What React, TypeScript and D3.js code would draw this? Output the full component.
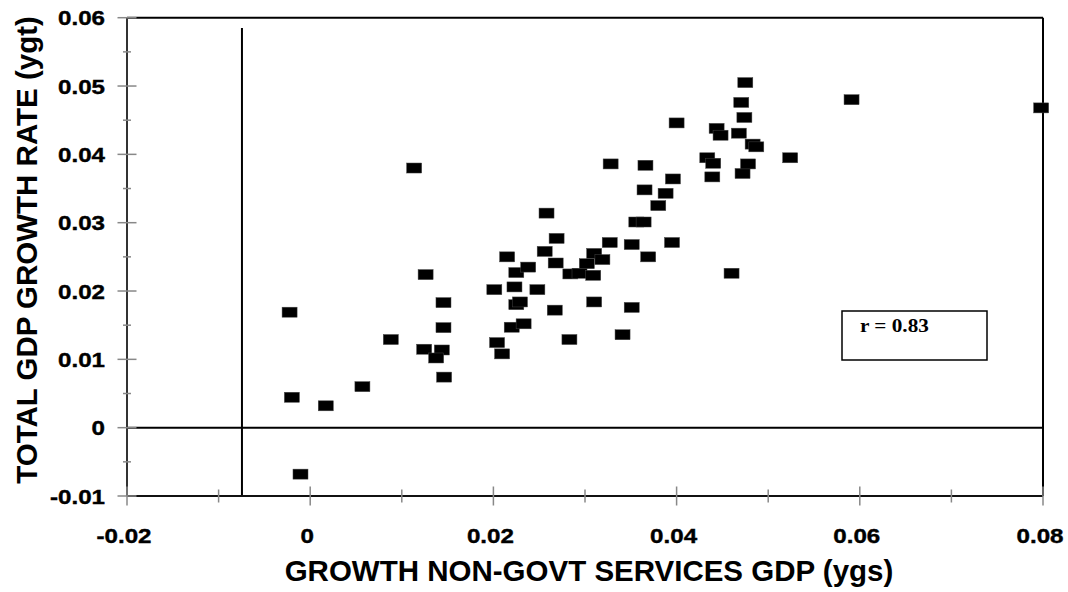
import React from "react";
import * as d3 from "d3";

const ygs: number[] = [
  -0.00225, -0.002, 0.0017, -0.00106, 0.0057, 0.0088, 0.01135, 0.0126, 0.01244, 0.01437,
  0.01375, 0.01462, 0.01455, 0.01455, 0.0201, 0.0204, 0.02095, 0.0215, 0.0223, 0.0225,
  0.0229, 0.022, 0.0233, 0.0225, 0.0238, 0.0248, 0.0256, 0.0258, 0.0268, 0.0269,
  0.0267, 0.0283, 0.0284, 0.0294, 0.0302, 0.0309, 0.031, 0.0319, 0.031, 0.0327,
  0.0328, 0.0341, 0.0351, 0.0351, 0.0356, 0.0364, 0.0366, 0.0365, 0.0369, 0.038,
  0.0388, 0.0395, 0.0396, 0.04, 0.04335, 0.044, 0.0439, 0.04437, 0.0448, 0.046,
  0.0468, 0.04706, 0.0472, 0.0474, 0.0475, 0.0478, 0.0483, 0.0487, 0.0524, 0.0591,
  0.0798,
];
const ygt: number[] = [
  0.0169, 0.00445, 0.0032, -0.0068, 0.006, 0.0129, 0.038, 0.0224, 0.01148, 0.01137,
  0.0102, 0.0074, 0.0183, 0.01464, 0.0202, 0.01245, 0.0108, 0.025, 0.0206, 0.018,
  0.0184, 0.0147, 0.0152, 0.0227, 0.0235, 0.0202, 0.0258, 0.0314, 0.0241, 0.0277,
  0.0172, 0.0129, 0.0225, 0.0226, 0.024, 0.0223, 0.0255, 0.0246, 0.0184, 0.0271,
  0.0386, 0.0136, 0.0268, 0.0176, 0.0301, 0.0301, 0.0384, 0.0348, 0.025, 0.0325,
  0.0343, 0.0271, 0.0364, 0.0446, 0.0395, 0.0387, 0.0367, 0.0438, 0.0428, 0.0226,
  0.0431, 0.0476, 0.0372, 0.0454, 0.0505, 0.0386, 0.0415, 0.0411, 0.0395, 0.048,
  0.0468,
];

const xMajorTicks: number[] = [-0.02, 0, 0.02, 0.04, 0.06, 0.08];
const xTickLabels: string[] = ["-0.02", "0", "0.02", "0.04", "0.06", "0.08"];
const xMinorTicks: number[] = [-0.01, 0.01, 0.03, 0.05, 0.07];
const yMajorTicks: number[] = [-0.01, 0, 0.01, 0.02, 0.03, 0.04, 0.05, 0.06];
const yTickLabels: string[] = ["-0.01", "0", "0.01", "0.02", "0.03", "0.04", "0.05", "0.06"];
const yMinorTicks: number[] = [-0.005, 0.005, 0.015, 0.025, 0.035, 0.045, 0.055];
const refLineX = -0.00745;
const refLineTop = 0.0585;
const rLabel = "r = 0.83";
const xTitle = "GROWTH NON-GOVT SERVICES GDP (ygs)";
const yTitle = "TOTAL GDP GROWTH RATE (ygt)";

export default function App() {
  const W = 1068, H = 592;
  const x = d3.scaleLinear().domain([-0.02, 0.08]).range([127, 1043]);
  const y = d3.scaleLinear().domain([-0.01, 0.06]).range([496, 17.7]);
  const sans = "'Liberation Sans', Arial, sans-serif";
  const mw = 15, mh = 10;
  return (
    <svg width={W} height={H} style={{ position: "absolute", left: 0, top: 0, background: "#fff" }}>
      <rect x={0} y={0} width={W} height={H} fill="#fff" />
      {/* zero line */}
      <line x1={x(-0.02)} x2={x(0.08)} y1={y(0)} y2={y(0)} stroke="#000" strokeWidth={2} />
      {/* vertical reference line */}
      <line x1={x(refLineX)} x2={x(refLineX)} y1={y(refLineTop)} y2={y(-0.01)} stroke="#000" strokeWidth={2} />
      {/* frame */}
      <line x1={x(-0.02)} x2={x(0.08)} y1={y(0.06)} y2={y(0.06)} stroke="#000" strokeWidth={2} />
      <line x1={x(0.08)} x2={x(0.08)} y1={y(0.06)} y2={y(-0.01)} stroke="#000" strokeWidth={2} />
      <line x1={x(-0.02)} x2={x(0.08)} y1={y(-0.01)} y2={y(-0.01)} stroke="#111" strokeWidth={2} />
      <line x1={x(-0.02)} x2={x(-0.02)} y1={y(0.06)} y2={y(-0.01)} stroke="#333" strokeWidth={2} />
      {/* y ticks */}
      {yMajorTicks.map((t) => (
        <line key={"ym" + t} x1={x(-0.02) - 9.5} x2={x(-0.02) + 9.5} y1={y(t)} y2={y(t)} stroke="#888" strokeWidth={1.5} />
      ))}
      {yMinorTicks.map((t) => (
        <line key={"yn" + t} x1={x(-0.02) - 4} x2={x(-0.02) + 4} y1={y(t)} y2={y(t)} stroke="#888" strokeWidth={1.5} />
      ))}
      {/* x ticks */}
      {xMajorTicks.map((t) => (
        <line key={"xm" + t} x1={x(t)} x2={x(t)} y1={y(-0.01) - 9.5} y2={y(-0.01) + 9.5} stroke="#888" strokeWidth={1.5} />
      ))}
      {xMinorTicks.map((t) => (
        <line key={"xn" + t} x1={x(t)} x2={x(t)} y1={y(-0.01) - 6.5} y2={y(-0.01) + 6.5} stroke="#888" strokeWidth={1.5} />
      ))}
      {/* y tick labels */}
      {yMajorTicks.map((t, i) => (
        <text key={"yl" + t} transform={`translate(105,${y(t) + 7.5}) scale(1.15,1)`} textAnchor="end"
          fontFamily={sans} fontWeight="bold" fontSize={21} fill="#000" stroke="#000" strokeWidth={0.4}>{yTickLabels[i]}</text>
      ))}
      {/* x tick labels */}
      {xMajorTicks.map((t, i) => (
        <text key={"xl" + t} transform={`translate(${x(t) - 3},543) scale(1.15,1)`} textAnchor="middle"
          fontFamily={sans} fontWeight="bold" fontSize={21} fill="#000" stroke="#000" strokeWidth={0.4}>{xTickLabels[i]}</text>
      ))}
      {/* points */}
      {ygs.map((v, i) => (
        <rect key={"p" + i} x={x(v) - mw / 2} y={y(ygt[i]) - mh / 2} width={mw} height={mh} fill="#000" stroke="#444" strokeWidth={0.5} />
      ))}
      {/* r box */}
      <rect x={842} y={311} width={145} height={49} fill="#fff" stroke="#000" strokeWidth={1.5} />
      <text transform="translate(860,332) scale(1.18,1)" fontFamily="'Liberation Serif', 'Times New Roman', serif" fontWeight="bold" fontSize={18} fill="#000">{rLabel}</text>
      {/* titles */}
      <text x={589} y={581} textAnchor="middle" fontFamily={sans} fontWeight="bold" fontSize={29.5} fill="#000">{xTitle}</text>
      <text transform={`translate(37,250) rotate(-90)`} textAnchor="middle" fontFamily={sans} fontWeight="bold" fontSize={29.5} fill="#000">{yTitle}</text>
    </svg>
  );
}
